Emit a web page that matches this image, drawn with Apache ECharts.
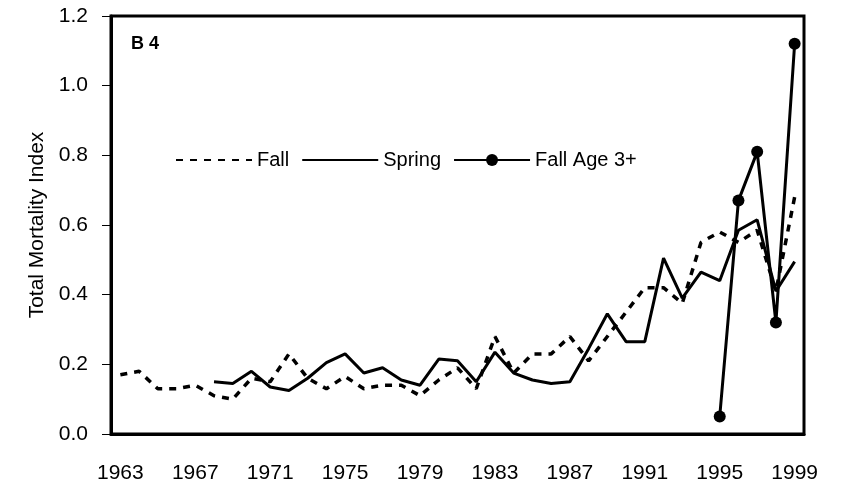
<!DOCTYPE html>
<html>
<head>
<meta charset="utf-8">
<script src="https://cdn.jsdelivr.net/npm/echarts@6/dist/echarts.min.js"></script>
<style>
  html, body { margin: 0; padding: 0; background: #fff; }
  #chart { width: 841px; height: 487px; }
</style>
</head>
<body>
<div id="chart"></div>
<script>
// years on the category axis
const years = [];
for (let y = 1963; y <= 1999; y++) years.push(String(y));

// Fall survey, 1963-1999
const fallValues = [
  0.17, 0.18, 0.13, 0.13, 0.14, 0.11, 0.10, 0.16, 0.15, 0.23,
  0.16, 0.13, 0.165, 0.13, 0.14, 0.14, 0.11, 0.155, 0.19, 0.13,
  0.28, 0.175, 0.23, 0.23, 0.28, 0.21, 0.28, 0.35, 0.42, 0.42,
  0.375, 0.55, 0.58, 0.55, 0.585, 0.41, 0.68
];
// Spring survey, starts 1968
const springValues = [
  null, null, null, null, null, 0.15, 0.145, 0.18, 0.135, 0.125,
  0.16, 0.205, 0.23, 0.175, 0.19, 0.155, 0.14, 0.215, 0.21, 0.15,
  0.235, 0.175, 0.155, 0.145, 0.15, 0.245, 0.345, 0.265, 0.265, 0.505,
  0.39, 0.465, 0.44, 0.585, 0.615, 0.41, 0.495
];
// Fall age 3+, 1995-1999
const fallAge3Values = [
  null, null, null, null, null, null, null, null, null, null,
  null, null, null, null, null, null, null, null, null, null,
  null, null, null, null, null, null, null, null, null, null,
  null, null, 0.05, 0.67, 0.81, 0.32, 1.12
];
const yTicks = { min: 0, max: 1.2, step: 0.2 };

const chart = echarts.init(document.getElementById("chart"));
const font = "Liberation Sans, Arial, sans-serif";

const option = {
  animation: false,
  backgroundColor: "#fff",
  textStyle: { fontFamily: font, color: "#000" },
  grid: {
    left: 111,
    right: 37,
    top: 16,
    bottom: 53,
    show: true,
    borderColor: "#000",
    borderWidth: 3,
  },
  title: {
    text: "B 4",
    left: 126,
    top: 30,
    textStyle: { fontFamily: font, fontSize: 18, fontWeight: "bold", color: "#000" },
  },
  legend: {
    left: 170,
    top: 145,
    itemWidth: 76,
    itemHeight: 15,
    itemGap: 12,
    textStyle: { fontFamily: font, fontSize: 20, color: "#000" },
    data: [
      // line series without symbols: hide the circle the legend adds
      { name: "Fall", itemStyle: { color: "rgba(0,0,0,0)", borderWidth: 0 } },
      { name: "Spring", itemStyle: { color: "rgba(0,0,0,0)", borderWidth: 0 } },
      { name: "Fall Age 3+" },
    ],
  },
  xAxis: {
    type: "category",
    data: years,
    boundaryGap: true,
    axisLine: { lineStyle: { color: "#000", width: 3 } },
    axisTick: { interval: 0, length: 9, lineStyle: { color: "#000", width: 1 } },
    axisLabel: {
      interval: 3,
      margin: 29,
      fontSize: 21,
      fontFamily: font,
      color: "#000",
    },
  },
  yAxis: {
    type: "value",
    min: yTicks.min,
    max: yTicks.max,
    interval: yTicks.step,
    name: "Total Mortality Index",
    nameLocation: "middle",
    nameGap: 62,
    nameTextStyle: { fontFamily: font, fontSize: 21, color: "#000" },
    axisLine: { show: true, lineStyle: { color: "#000", width: 3 } },
    axisTick: { show: true, length: 9, lineStyle: { color: "#000", width: 1 } },
    splitLine: { show: false },
    axisLabel: {
      fontSize: 21,
      fontFamily: font,
      color: "#000",
      margin: 23,
      formatter: (v) => v.toFixed(1),
    },
  },
  series: [
    {
      name: "Fall",
      type: "line",
      data: fallValues,
      symbol: "none",
      lineStyle: { color: "#000", width: 3.5, type: [7, 7] },
      itemStyle: { color: "#000" },
    },
    {
      name: "Spring",
      type: "line",
      data: springValues,
      symbol: "none",
      lineStyle: { color: "#000", width: 3 },
      itemStyle: { color: "#000" },
    },
    {
      name: "Fall Age 3+",
      type: "line",
      data: fallAge3Values,
      symbol: "circle",
      symbolSize: 12,
      lineStyle: { color: "#000", width: 3 },
      itemStyle: { color: "#000" },
    },
  ],
};

chart.setOption(option);
</script>
</body>
</html>
